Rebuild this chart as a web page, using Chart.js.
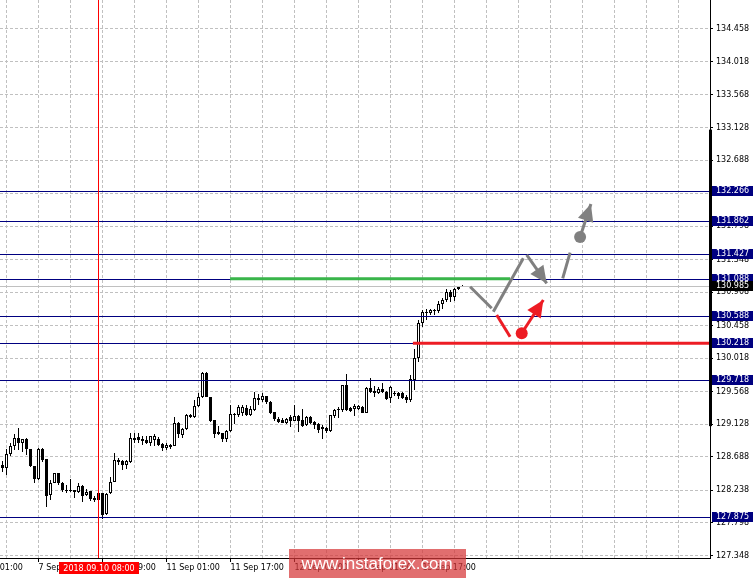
<!DOCTYPE html>
<html><head><meta charset="utf-8">
<style>html,body{margin:0;padding:0;background:#fff;}canvas{display:block;}</style>
<script src="https://cdn.jsdelivr.net/npm/chart.js@4.4.1/dist/chart.umd.min.js"></script>
</head><body>
<canvas id="c" width="753" height="580"></canvas>
<script>
// ---- H1 candles, 7 Sep 2018 08:00 ... 14 Sep 03:00 ----
const opens = [128.576,128.535,128.724,128.832,128.940,128.872,128.926,128.792,128.562,128.387,
128.792,128.657,128.171,128.333,128.468,128.333,128.238,128.225,128.238,128.211,
128.292,128.171,128.225,128.130,128.103,128.198,127.915,128.198,128.346,128.643,
128.630,128.576,128.616,128.940,128.953,128.926,128.913,128.872,128.913,128.926,
128.859,128.805,128.846,128.832,129.142,128.980,129.061,129.250,129.223,129.372,
129.493,129.817,129.493,129.183,129.021,129.007,128.926,129.034,129.264,129.250,
129.277,129.345,129.250,129.318,129.480,129.453,129.507,129.426,129.291,129.196,
129.183,129.142,129.223,129.169,129.237,129.183,129.115,129.223,129.156,129.129,
129.088,129.075,129.034,129.237,129.318,129.318,129.655,129.345,129.331,129.331,
129.358,129.277,129.614,129.574,129.547,129.601,129.561,129.480,129.534,129.547,
129.547,129.493,129.453,129.722,130.019,130.491,130.640,130.626,130.667,130.653,
130.748,130.802,130.910,130.842,130.950,130.977];
const highs = [128.630,128.792,128.872,128.994,129.075,128.926,128.940,128.792,128.562,128.805,
128.805,128.657,128.373,128.468,128.468,128.346,128.306,128.387,128.238,128.333,
128.306,128.252,128.225,128.157,128.211,128.198,128.198,128.414,128.738,128.670,
128.643,128.643,129.007,129.007,129.007,128.967,128.967,128.967,128.994,128.953,
128.872,128.872,128.859,129.223,129.156,129.075,129.264,129.264,129.453,129.547,
129.830,129.830,129.493,129.183,129.102,129.007,129.048,129.385,129.277,129.385,
129.385,129.385,129.372,129.561,129.534,129.547,129.507,129.439,129.291,129.223,
129.210,129.210,129.250,129.385,129.250,129.331,129.237,129.237,129.169,129.142,
129.115,129.088,129.250,129.331,129.358,129.655,129.803,129.358,129.399,129.385,
129.372,129.628,129.749,129.641,129.628,129.682,129.574,129.641,129.574,129.561,
129.561,129.520,129.790,130.141,130.532,130.667,130.680,130.680,130.680,130.788,
130.829,130.950,130.937,130.964,130.991,131.004];
const lows = [128.481,128.441,128.697,128.778,128.778,128.751,128.711,128.549,128.333,128.373,
128.616,128.009,128.103,128.333,128.306,128.211,128.198,128.211,128.130,128.198,
128.076,128.157,128.090,128.076,128.090,127.848,127.901,128.184,128.346,128.576,
128.508,128.522,128.603,128.872,128.872,128.846,128.859,128.832,128.832,128.832,
128.765,128.778,128.792,128.832,128.940,128.940,129.048,129.210,129.210,129.358,
129.480,129.493,129.156,128.940,128.980,128.886,128.886,129.021,129.129,129.223,
129.237,129.237,129.237,129.304,129.385,129.426,129.399,129.264,129.169,129.142,
129.142,129.129,129.088,129.169,129.021,129.088,129.102,129.129,129.061,129.007,
128.926,129.007,129.021,129.210,129.210,129.291,129.304,129.291,129.237,129.318,
129.277,129.277,129.547,129.493,129.534,129.547,129.453,129.412,129.507,129.466,
129.466,129.412,129.426,129.588,129.965,130.437,130.532,130.599,130.599,130.626,
130.680,130.775,130.775,130.788,130.937,130.977];
const closes = [128.535,128.724,128.832,128.940,128.872,128.926,128.792,128.562,128.387,128.792,
128.643,128.157,128.333,128.468,128.333,128.238,128.225,128.238,128.211,128.292,
128.157,128.211,128.117,128.103,128.198,127.901,128.184,128.346,128.643,128.616,
128.576,128.630,128.940,128.913,128.913,128.899,128.872,128.967,128.967,128.846,
128.805,128.846,128.819,129.142,128.994,129.061,129.250,129.223,129.372,129.493,
129.817,129.493,129.169,128.994,128.994,128.926,129.034,129.264,129.250,129.358,
129.358,129.250,129.331,129.480,129.453,129.507,129.426,129.277,129.196,129.156,
129.142,129.196,129.169,129.237,129.169,129.102,129.223,129.142,129.115,129.048,
129.061,129.034,129.250,129.318,129.331,129.655,129.318,129.304,129.372,129.372,
129.277,129.614,129.561,129.547,129.601,129.561,129.466,129.628,129.547,129.507,
129.480,129.453,129.736,130.019,130.491,130.640,130.626,130.667,130.653,130.748,
130.802,130.910,130.842,130.950,130.977,130.985];

// ---- axes ----
const yTickValues = [134.458,134.018,133.568,133.128,132.688,132.238,131.798,131.348,130.908,
130.458,130.018,129.568,129.128,128.688,128.238,127.798,127.348];
const xTickLabels = ['7 Sep 01:00','7 Sep 17:00','10 Sep 09:00','11 Sep 01:00','11 Sep 17:00',
'12 Sep 09:00','13 Sep 01:00','13 Sep 17:00'];
const xTickBars = [-7, 9, 25, 41, 57, 73, 89, 105];

// ---- objects on the chart ----
const levels = [132.266,131.862,131.427,131.088,130.588,130.218,129.718,127.875];
const currentPrice = 130.985;
const markerBar = 24;
const markerLabel = '2018.09.10 08:00';
const scaleRange = [129.10, 133.10];
const greenLine = [{x:56.9,y:131.088},{x:126.9,y:131.088}];
const redLine = [{x:102.6,y:130.218},{x:190,y:130.218}];
const grayLeg1 = [{x:116.9,y:130.981},{x:122.3,y:130.690}];
const grayLeg2 = [{x:122.7,y:130.644},{x:130.2,y:131.364}];
const grayArrow1 = [{x:131.05,y:131.409},{x:136.05,y:131.027}];
const grayLeg3 = [{x:140.05,y:131.094},{x:141.9,y:131.440}];
const grayDot = [{x:144.4,y:131.652}];
const grayArrow2 = [{x:144.4,y:131.652},{x:147.1,y:132.097}];
const redLeg = [{x:123.55,y:130.599},{x:126.9,y:130.307}];
const redDot = [{x:129.8,y:130.353}];
const redArrow = [{x:129.8,y:130.353},{x:135.2,y:130.802}];

const FONT = 'DejaVu Sans';
const idx = opens.map((_, i) => i);
const gridBars = [-7];
for (let b = 1; b < 177; b += 8) gridBars.push(b);
function labelFor(v) { const k = xTickBars.indexOf(v); return k >= 0 ? xTickLabels[k] : ''; }

function seg(data, color, width, order) {
  return {type:'line', data, borderColor:color, borderWidth:width, pointRadius:0,
    borderCapStyle:'butt', fill:false, order};
}
function dot(data, color) {
  return {type:'line', data, showLine:false, pointRadius:6, pointBackgroundColor:color,
    pointBorderWidth:0, order:0};
}

const arrows = [{d:grayArrow1, c:'#808080'}, {d:grayArrow2, c:'#808080'}, {d:redArrow, c:'#ed1c24'}];

const overlay = {
  id:'overlay',
  afterDatasetDraw(chart, args) {
    if (args.index !== 1) return;           // right after the candle bodies
    const {ctx, chartArea:a, scales:{y}} = chart;
    ctx.save();
    ctx.lineWidth = 1;
    const hline = (v, color) => {
      const py = Math.round(y.getPixelForValue(v)) + 0.5;
      ctx.strokeStyle = color;
      ctx.beginPath(); ctx.moveTo(a.left, py); ctx.lineTo(a.right, py); ctx.stroke();
    };
    hline(currentPrice, '#c0c0c0');
    levels.forEach(v => hline(v, '#000080'));
    ctx.restore();
  },
  afterDatasetsDraw(chart) {
    const {ctx, chartArea:a, scales:{x, y}} = chart;
    ctx.save();
    ctx.beginPath(); ctx.rect(a.left, a.top, a.right - a.left, a.bottom - a.top); ctx.clip();
    arrows.forEach(ar => {
      const p0 = ar.d[0], p1 = ar.d[1];
      const x0 = x.getPixelForValue(p0.x), y0 = y.getPixelForValue(p0.y);
      const x1 = x.getPixelForValue(p1.x), y1 = y.getPixelForValue(p1.y);
      const ang = Math.atan2(y1 - y0, x1 - x0);
      const L = 17, W = 8;
      ctx.fillStyle = ar.c;
      ctx.beginPath();
      ctx.moveTo(x1, y1);
      ctx.lineTo(x1 - L*Math.cos(ang) + W*Math.sin(ang), y1 - L*Math.sin(ang) - W*Math.cos(ang));
      ctx.lineTo(x1 - L*Math.cos(ang) - W*Math.sin(ang), y1 - L*Math.sin(ang) + W*Math.cos(ang));
      ctx.closePath(); ctx.fill();
    });
    ctx.restore();
  },
  afterDraw(chart) {
    const {ctx, chartArea:a, scales:{x, y}} = chart;
    ctx.save();
    // thick segment on the price axis
    const ya = y.getPixelForValue(scaleRange[1]), yb = y.getPixelForValue(scaleRange[0]);
    ctx.fillStyle = '#000';
    ctx.fillRect(a.right - 1, ya, 3, yb - ya);
    // level labels
    ctx.font = '8px "' + FONT + '"';
    ctx.textBaseline = 'middle'; ctx.textAlign = 'left';
    const box = (v, bg) => {
      const py = Math.round(y.getPixelForValue(v));
      ctx.fillStyle = bg;
      ctx.fillRect(a.right + 2, py - 5, chart.width - a.right - 2, 10);
      ctx.fillStyle = '#fff';
      ctx.fillText(v.toFixed(3), a.right + 6, py);
    };
    levels.forEach(v => box(v, '#000080'));
    box(currentPrice, '#000');
    // date label of the vertical marker
    const mx = x.getPixelForValue(markerBar);
    ctx.fillStyle = '#ff0000';
    ctx.fillRect(Math.round(mx) - 40, a.bottom + 4, 80, 12);
    ctx.fillStyle = '#fff'; ctx.textAlign = 'center';
    ctx.fillText(markerLabel, Math.round(mx), a.bottom + 10.5);
    // watermark
    ctx.fillStyle = 'rgba(214,54,56,0.72)';
    ctx.fillRect(289, 549, 177, 29);
    ctx.fillStyle = '#fff';
    ctx.font = '17px "Liberation Sans", Arial, sans-serif';
    ctx.textAlign = 'center'; ctx.textBaseline = 'middle';
    ctx.fillText('www.instaforex.com', 377, 564);
    ctx.restore();
  }
};

const datasets = [
  {type:'bar', data: idx.map(i => ({x:i, y:[lows[i], highs[i]]})), backgroundColor:'#000',
   borderWidth:0, barThickness:1, grouped:false, inflateAmount:0, order:6},
  {type:'bar', data: idx.map(i => ({x:i, y:[opens[i], closes[i]]})),
   backgroundColor: idx.map(i => closes[i] >= opens[i] ? '#ffffff' : '#000000'),
   borderColor:'#000', borderWidth:1, borderSkipped:false, barThickness:3, grouped:false,
   inflateAmount:0, order:5},
  seg([{x:markerBar,y:127.0},{x:markerBar,y:135.2}], '#ff0000', 1, 2),
  seg(greenLine, '#39b54a', 3, 1),
  seg(redLine, '#ed1c24', 3, 1),
  seg(grayLeg1, '#808080', 3, 0),
  seg(grayLeg2, '#808080', 3, 0),
  seg(grayArrow1, '#808080', 3, 0),
  seg(grayLeg3, '#808080', 3, 0),
  seg(grayArrow2, '#808080', 3, 0),
  seg(redLeg, '#ed1c24', 3, 0),
  seg(redArrow, '#ed1c24', 3, 0),
  dot(grayDot, '#808080'),
  dot(redDot, '#ed1c24')
];

new Chart(document.getElementById('c'), {
  type:'bar',
  data:{datasets},
  plugins:[overlay],
  options:{
    responsive:false, animation:false, events:[],
    layout:{padding:0, autoPadding:false},
    plugins:{legend:{display:false}, tooltip:{enabled:false}},
    scales:{
      x:{
        type:'linear', min:-0.625, max:176.875, offset:false, bounds:'data',
        afterBuildTicks: s => { s.ticks = gridBars.map(v => ({value:v})); },
        afterFit: s => { s.height = 22; s.paddingLeft = 0; s.paddingRight = 0; },
        grid:{color:'#c0c0c0', lineWidth:1, offset:false, drawTicks:true, tickLength:4, borderDash:[3,2],
          tickColor: c => (c.tick && labelFor(c.tick.value)) ? '#000' : 'rgba(0,0,0,0)'},
        border:{display:true, color:'#000', width:1, dash:[3,2]},
        ticks:{autoSkip:false, maxRotation:0, minRotation:0, align:'start', padding:1, color:'#000',
          font:{family:FONT, size:8}, callback: v => labelFor(v)}
      },
      y:{
        type:'linear', position:'right', min:127.321, max:134.849, bounds:'data', beginAtZero:false,
        afterBuildTicks: s => { s.ticks = yTickValues.map(v => ({value:v})); },
        afterFit: s => { s.width = 43; s.paddingTop = 0; s.paddingBottom = 0; },
        grid:{color:'#c0c0c0', lineWidth:1, tickLength:3, tickColor:'#000', borderDash:[3,2]},
        border:{display:true, color:'#000', width:1, dash:[3,2]},
        ticks:{autoSkip:false, padding:3, color:'#000', font:{family:FONT, size:8},
          callback: v => Number(v).toFixed(3)}
      }
    }
  }
});
</script>
</body></html>
